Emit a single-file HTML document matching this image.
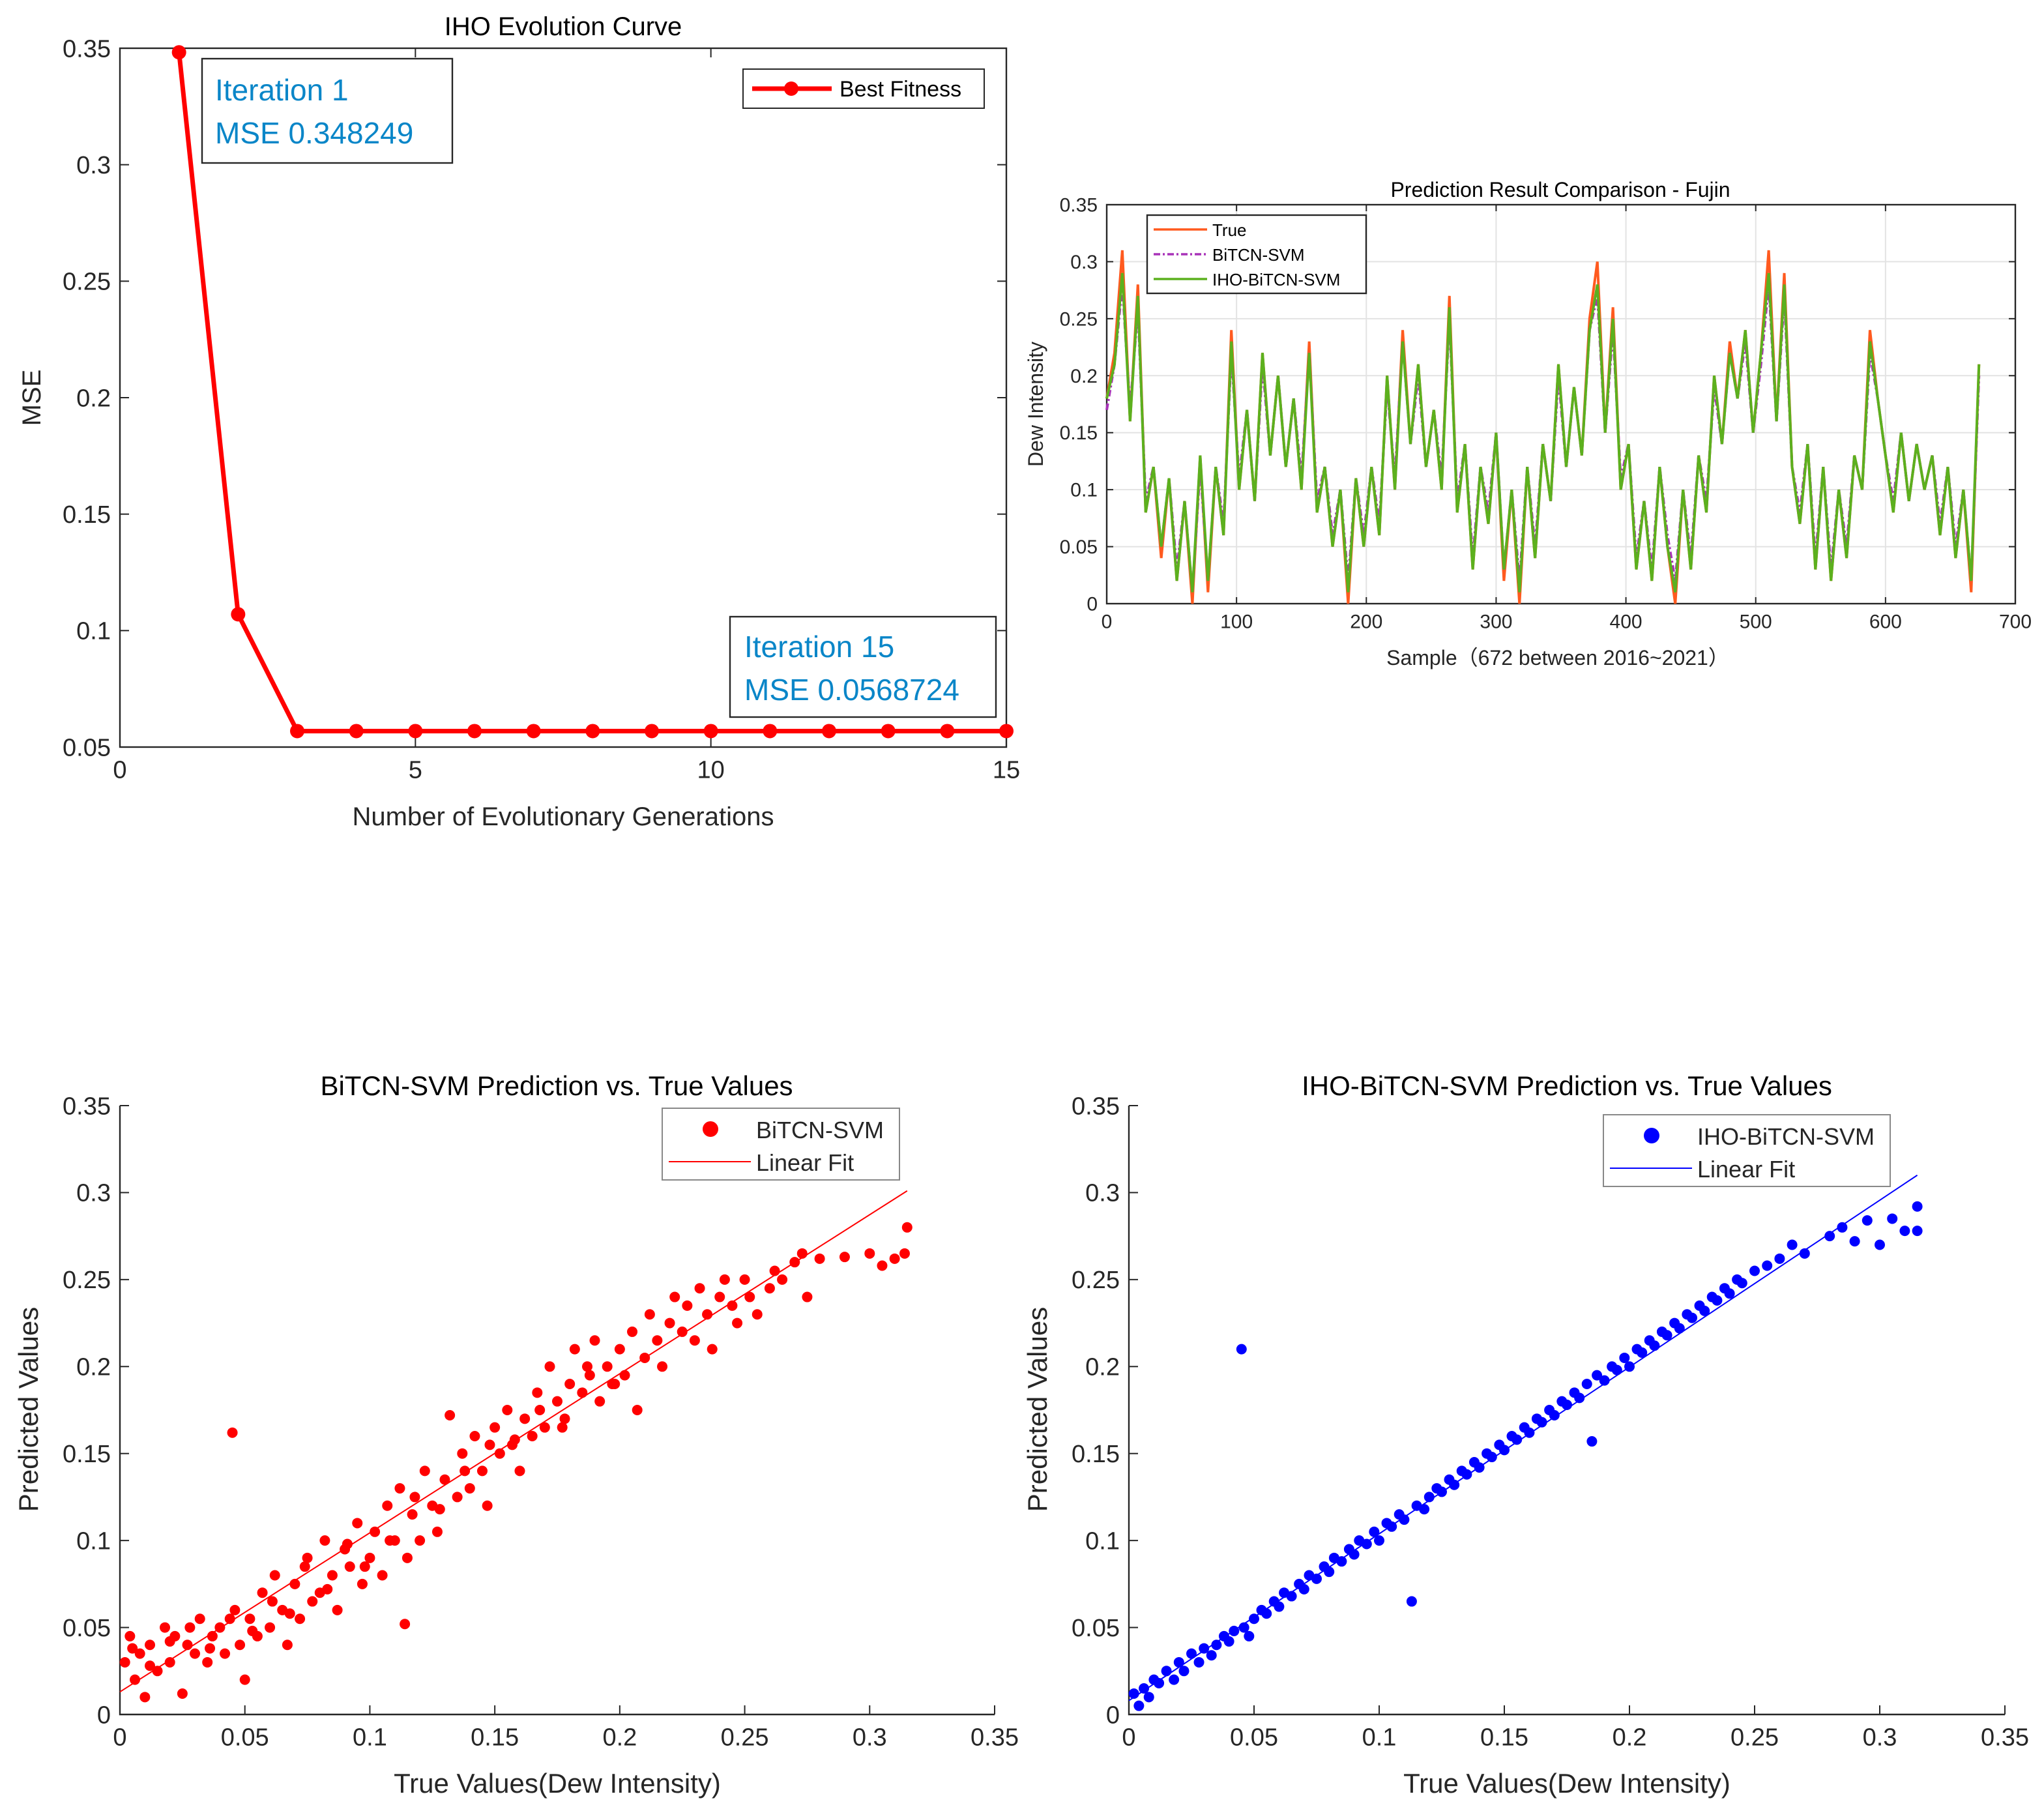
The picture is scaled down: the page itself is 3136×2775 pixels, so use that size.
<!DOCTYPE html>
<html><head><meta charset="utf-8"><style>
html,body{margin:0;padding:0;background:#fff;}
svg{display:block;font-family:"Liberation Sans",sans-serif;}
</style></head><body>
<svg id="s" width="3136" height="2775" viewBox="0 0 1568 1387.5" xmlns="http://www.w3.org/2000/svg"></svg>
<script>
// ---- Panel 1 data ----
const p1Gen=[1,2,3,4,5,6,7,8,9,10,11,12,13,14,15];
const p1Mse=[0.348249,0.107,0.0568724,0.0568724,0.0568724,0.0568724,0.0568724,0.0568724,0.0568724,0.0568724,0.0568724,0.0568724,0.0568724,0.0568724,0.0568724];
const p1XTicks=[0,5,10,15];
const p1YTicks=[0.05,0.1,0.15,0.2,0.25,0.3,0.35];
// ---- Panel 2 data ----
const p2Samples=[0,6,12,18,24,30,36,42,48,54,60,66,72,78,84,90,96,102,108,114,120,126,132,138,144,150,156,162,168,174,180,186,192,198,204,210,216,222,228,234,240,246,252,258,264,270,276,282,288,294,300,306,312,318,324,330,336,342,348,354,360,366,372,378,384,390,396,402,408,414,420,426,432,438,444,450,456,462,468,474,480,486,492,498,504,510,516,522,528,534,540,546,552,558,564,570,576,582,588,594,600,606,612,618,624,630,636,642,648,654,660,666,672];
const p2True=[0.18,0.22,0.31,0.16,0.28,0.08,0.12,0.04,0.11,0.02,0.09,0.0,0.13,0.01,0.12,0.06,0.24,0.1,0.17,0.09,0.22,0.13,0.2,0.12,0.18,0.1,0.23,0.08,0.12,0.05,0.1,0.0,0.11,0.05,0.12,0.06,0.2,0.1,0.24,0.14,0.21,0.12,0.17,0.1,0.27,0.08,0.14,0.03,0.12,0.07,0.15,0.02,0.1,0.0,0.12,0.04,0.14,0.09,0.21,0.12,0.19,0.13,0.25,0.3,0.15,0.26,0.1,0.14,0.03,0.09,0.02,0.12,0.05,0.0,0.1,0.03,0.13,0.08,0.2,0.14,0.23,0.18,0.24,0.15,0.22,0.31,0.16,0.29,0.12,0.07,0.14,0.03,0.12,0.02,0.1,0.04,0.13,0.1,0.24,0.18,0.13,0.08,0.15,0.09,0.14,0.1,0.13,0.06,0.12,0.04,0.1,0.01,0.21];
const p2Bitcn=[0.17,0.21,0.28,0.17,0.26,0.09,0.12,0.05,0.11,0.03,0.09,0.01,0.12,0.02,0.12,0.07,0.22,0.11,0.17,0.09,0.21,0.13,0.2,0.12,0.18,0.11,0.22,0.09,0.12,0.06,0.1,0.02,0.11,0.06,0.12,0.07,0.19,0.11,0.23,0.14,0.2,0.12,0.17,0.11,0.25,0.09,0.14,0.04,0.12,0.08,0.15,0.03,0.1,0.02,0.12,0.05,0.14,0.09,0.2,0.12,0.19,0.13,0.24,0.27,0.15,0.24,0.11,0.14,0.04,0.09,0.03,0.12,0.06,0.02,0.1,0.04,0.13,0.09,0.19,0.14,0.22,0.18,0.23,0.15,0.21,0.28,0.16,0.27,0.12,0.08,0.14,0.04,0.12,0.03,0.1,0.05,0.13,0.1,0.22,0.18,0.13,0.09,0.15,0.09,0.14,0.1,0.13,0.07,0.12,0.05,0.1,0.02,0.2];
const p2Iho=[0.18,0.21,0.29,0.16,0.27,0.08,0.12,0.05,0.11,0.02,0.09,0.01,0.13,0.02,0.12,0.06,0.23,0.1,0.17,0.09,0.22,0.13,0.2,0.12,0.18,0.1,0.22,0.08,0.12,0.05,0.1,0.01,0.11,0.05,0.12,0.06,0.2,0.1,0.23,0.14,0.21,0.12,0.17,0.1,0.26,0.08,0.14,0.03,0.12,0.07,0.15,0.03,0.1,0.01,0.12,0.04,0.14,0.09,0.21,0.12,0.19,0.13,0.24,0.28,0.15,0.25,0.1,0.14,0.03,0.09,0.02,0.12,0.05,0.01,0.1,0.03,0.13,0.08,0.2,0.14,0.22,0.18,0.24,0.15,0.22,0.29,0.16,0.28,0.12,0.07,0.14,0.03,0.12,0.02,0.1,0.04,0.13,0.1,0.23,0.18,0.13,0.08,0.15,0.09,0.14,0.1,0.13,0.06,0.12,0.04,0.1,0.02,0.21];
const p2XTicks=[0,100,200,300,400,500,600,700];
const p2YTicks=[0,0.05,0.1,0.15,0.2,0.25,0.3,0.35];
// ---- Panel 3/4 data ----
const scTicks=[0,0.05,0.1,0.15,0.2,0.25,0.3,0.35];
const redTrue=[0.002,0.004,0.006,0.008,0.01,0.012,0.015,0.018,0.02,0.022,0.025,0.027,0.03,0.032,0.035,0.037,0.04,0.042,0.045,0.046,0.048,0.05,0.052,0.055,0.057,0.06,0.062,0.065,0.067,0.07,0.072,0.075,0.077,0.08,0.082,0.085,0.087,0.09,0.092,0.095,0.097,0.1,0.102,0.105,0.107,0.11,0.112,0.114,0.115,0.117,0.12,0.122,0.125,0.127,0.13,0.132,0.135,0.137,0.14,0.142,0.145,0.147,0.15,0.152,0.155,0.157,0.16,0.162,0.165,0.167,0.17,0.172,0.175,0.177,0.18,0.182,0.185,0.187,0.19,0.192,0.195,0.197,0.2,0.202,0.205,0.207,0.21,0.212,0.215,0.217,0.22,0.222,0.225,0.227,0.23,0.232,0.235,0.237,0.24,0.242,0.245,0.247,0.25,0.252,0.255,0.26,0.262,0.265,0.27,0.273,0.275,0.28,0.29,0.3,0.305,0.31,0.315,0.314,0.005,0.012,0.02,0.028,0.036,0.044,0.053,0.061,0.068,0.074,0.083,0.091,0.098,0.108,0.118,0.128,0.138,0.148,0.158,0.168,0.178,0.188,0.198];
const redPred=[0.03,0.045,0.02,0.035,0.01,0.04,0.025,0.05,0.03,0.045,0.012,0.04,0.035,0.055,0.03,0.045,0.05,0.035,0.162,0.06,0.04,0.02,0.055,0.045,0.07,0.05,0.08,0.06,0.04,0.075,0.055,0.09,0.065,0.07,0.1,0.08,0.06,0.095,0.085,0.11,0.075,0.09,0.105,0.08,0.12,0.1,0.13,0.052,0.09,0.115,0.1,0.14,0.12,0.105,0.135,0.172,0.125,0.15,0.13,0.16,0.14,0.12,0.165,0.15,0.175,0.155,0.14,0.17,0.16,0.185,0.165,0.2,0.18,0.165,0.19,0.21,0.185,0.2,0.215,0.18,0.2,0.19,0.21,0.195,0.22,0.175,0.205,0.23,0.215,0.2,0.225,0.24,0.22,0.235,0.215,0.245,0.23,0.21,0.24,0.25,0.235,0.225,0.25,0.24,0.23,0.245,0.255,0.25,0.26,0.265,0.24,0.262,0.263,0.265,0.258,0.262,0.28,0.265,0.038,0.028,0.042,0.05,0.038,0.055,0.048,0.065,0.058,0.085,0.072,0.098,0.085,0.1,0.125,0.118,0.14,0.155,0.158,0.175,0.17,0.195,0.19];
const blueTrue=[0.002,0.004,0.006,0.008,0.01,0.012,0.015,0.018,0.02,0.022,0.025,0.028,0.03,0.033,0.035,0.038,0.04,0.042,0.045,0.046,0.048,0.05,0.053,0.055,0.058,0.06,0.062,0.065,0.068,0.07,0.072,0.075,0.078,0.08,0.082,0.085,0.088,0.09,0.092,0.095,0.098,0.1,0.103,0.105,0.108,0.11,0.113,0.115,0.118,0.12,0.123,0.125,0.128,0.13,0.133,0.135,0.138,0.14,0.143,0.145,0.148,0.15,0.153,0.155,0.158,0.16,0.163,0.165,0.168,0.17,0.173,0.175,0.178,0.18,0.183,0.185,0.187,0.19,0.193,0.195,0.198,0.2,0.203,0.205,0.208,0.21,0.213,0.215,0.218,0.22,0.223,0.225,0.228,0.23,0.233,0.235,0.238,0.24,0.243,0.245,0.25,0.255,0.26,0.265,0.27,0.28,0.285,0.29,0.295,0.3,0.305,0.31,0.315,0.315];
const bluePred=[0.012,0.005,0.015,0.01,0.02,0.018,0.025,0.02,0.03,0.025,0.035,0.03,0.038,0.034,0.04,0.045,0.042,0.048,0.21,0.05,0.045,0.055,0.06,0.058,0.065,0.062,0.07,0.068,0.075,0.072,0.08,0.078,0.085,0.082,0.09,0.088,0.095,0.092,0.1,0.098,0.105,0.1,0.11,0.108,0.115,0.112,0.065,0.12,0.118,0.125,0.13,0.128,0.135,0.132,0.14,0.138,0.145,0.142,0.15,0.148,0.155,0.152,0.16,0.158,0.165,0.162,0.17,0.168,0.175,0.172,0.18,0.178,0.185,0.182,0.19,0.157,0.195,0.192,0.2,0.198,0.205,0.2,0.21,0.208,0.215,0.212,0.22,0.218,0.225,0.222,0.23,0.228,0.235,0.232,0.24,0.238,0.245,0.242,0.25,0.248,0.255,0.258,0.262,0.27,0.265,0.275,0.28,0.272,0.284,0.27,0.285,0.278,0.292,0.278];
const redFit=[0.013,0.301];
const blueFit=[0.008,0.31];

const svg=document.getElementById('s');
const NS='http://www.w3.org/2000/svg';
function mk(tag,attrs,parent,txt){const e=document.createElementNS(NS,tag);for(const k in attrs)e.setAttribute(k,attrs[k]);if(txt!==undefined)e.textContent=txt;(parent||svg).appendChild(e);return e;}
function lin(d0,d1,r0,r1){return v=>r0+(v-d0)/(d1-d0)*(r1-r0);}
function fmt(v){return String(+v.toFixed(3));}

function axes(g,X,Y,x0,x1,y0,y1,xt,yt,fs,grid,tickLen,box){
  if(grid){
    xt.forEach(t=>{const l=mk('line',{x1:X(t),x2:X(t),y1:y0,y2:y1,stroke:'#e3e3e3','stroke-width':1},g);});
    yt.forEach(t=>{const l=mk('line',{x1:x0,x2:x1,y1:Y(t),y2:Y(t),stroke:'#e3e3e3','stroke-width':1},g);});
  }
  if(box){
    const b=mk('rect',{x:x0,y:y1,width:x1-x0,height:y0-y1,fill:'none',stroke:'#262626','stroke-width':1.2},g);
    
  } else {
    const a=mk('path',{d:`M${x0} ${y1}V${y0}H${x1}`,fill:'none',stroke:'#262626','stroke-width':1.2},g);
    
  }
  xt.forEach(t=>{
    mk('line',{x1:X(t),x2:X(t),y1:y0,y2:y0-tickLen,stroke:'#262626'},g);
    if(box)mk('line',{x1:X(t),x2:X(t),y1:y1,y2:y1+tickLen,stroke:'#262626'},g);
    const tx=mk('text',{x:X(t),y:y0+fs*1.25,'font-size':fs,'text-anchor':'middle',fill:'#262626'},g,fmt(t));
    
  });
  yt.forEach(t=>{
    mk('line',{x1:x0,x2:x0+tickLen,y1:Y(t),y2:Y(t),stroke:'#262626'},g);
    if(box)mk('line',{x1:x1,x2:x1-tickLen,y1:Y(t),y2:Y(t),stroke:'#262626'},g);
    const tx=mk('text',{x:x0-7,y:Y(t)+fs*0.35,'font-size':fs,'text-anchor':'end',fill:'#262626'},g,fmt(t));
    
  });
}

// ===== Panel 1 =====
(function(){
  const g=mk('g',{});
  const x0=92,x1=772,y0=573,y1=37;
  const X=lin(0,15,x0,x1),Y=lin(0.05,0.35,y0,y1);
  axes(g,X,Y,x0,x1,y0,y1,p1XTicks,p1YTicks,19,false,7,true);
  const t=mk('text',{x:432,y:27,'font-size':20,'text-anchor':'middle',fill:'#000'},g,'IHO Evolution Curve');
  const xl=mk('text',{x:432,y:633,'font-size':20,'text-anchor':'middle',fill:'#262626'},g,'Number of Evolutionary Generations');
  const yl=mk('text',{x:31,y:305,'font-size':20,'text-anchor':'middle',fill:'#262626',transform:'rotate(-90 31 305)'},g,'MSE');
  const pts=p1Gen.map((v,i)=>X(v)+','+Y(p1Mse[i])).join(' ');
  const pl=mk('polyline',{points:pts,fill:'none',stroke:'#ff0000','stroke-width':3.5},g);
  p1Gen.forEach((v,i)=>{const c=mk('circle',{cx:X(v),cy:Y(p1Mse[i]),r:5.5,fill:'#ff0000'},g);});
  const lg=mk('g',{},g);
  mk('rect',{x:570,y:53,width:185,height:30,fill:'#fff',stroke:'#262626','stroke-width':1},lg);
  mk('line',{x1:577,x2:638,y1:68,y2:68,stroke:'#f00','stroke-width':3.5},lg);
  mk('circle',{cx:607,cy:68,r:5.5,fill:'#f00'},lg);
  mk('text',{x:644,y:74,'font-size':17,fill:'#000'},lg,'Best Fitness');
  const a1=mk('g',{},g);
  mk('rect',{x:155,y:45,width:192,height:80,fill:'#fff',stroke:'#262626','stroke-width':1.2},a1);
  mk('text',{x:165,y:77,'font-size':23,fill:'#0a86c8'},a1,'Iteration 1');
  mk('text',{x:165,y:110,'font-size':23,fill:'#0a86c8'},a1,'MSE 0.348249');
  const a2=mk('g',{},g);
  mk('rect',{x:560,y:473,width:204,height:77,fill:'#fff',stroke:'#262626','stroke-width':1.2},a2);
  mk('text',{x:571,y:504,'font-size':23,fill:'#0a86c8'},a2,'Iteration 15');
  mk('text',{x:571,y:537,'font-size':23,fill:'#0a86c8'},a2,'MSE 0.0568724');
})();

// ===== Panel 2 =====
(function(){
  const g=mk('g',{});
  const x0=849,x1=1546,y0=463,y1=157;
  const X=lin(0,700,x0,x1),Y=lin(0,0.35,y0,y1);
  axes(g,X,Y,x0,x1,y0,y1,p2XTicks,p2YTicks,15,true,5,true);
  const t=mk('text',{x:1197,y:151,'font-size':16,'text-anchor':'middle',fill:'#000'},g,'Prediction Result Comparison - Fujin');
  const xl=mk('text',{x:1195,y:510,'font-size':16,'text-anchor':'middle',fill:'#262626'},g,'Sample（672 between 2016~2021）');
  const yl=mk('text',{x:800,y:310,'font-size':16,'text-anchor':'middle',fill:'#262626',transform:'rotate(-90 800 310)'},g,'Dew Intensity');
  const series=[[p2True,'#ff5a1f','none','true-line'],[p2Bitcn,'#a832b8','5,2,1.5,2','bitcn-svm-line'],[p2Iho,'#5cb01e','none','iho-bitcn-svm-line']];
  series.forEach(s=>{
    const pts=p2Samples.map((v,i)=>X(v)+','+Y(s[0][i])).join(' ');
    const p=mk('polyline',{points:pts,fill:'none',stroke:s[1],'stroke-width':2,'stroke-dasharray':s[2]},g);
    
  });
  const lg=mk('g',{},g);
  mk('rect',{x:880,y:165,width:168,height:60,fill:'#fff',stroke:'#262626','stroke-width':1.2},lg);
  [['True','#ff5a1f','none',176],['BiTCN-SVM','#a832b8','5,2,1.5,2',195],['IHO-BiTCN-SVM','#5cb01e','none',214]].forEach(r=>{
    mk('line',{x1:885,x2:926,y1:r[3],y2:r[3],stroke:r[1],'stroke-width':1.8,'stroke-dasharray':r[2]},lg);
    mk('text',{x:930,y:r[3]+5,'font-size':13,fill:'#000'},lg,r[0]);
  });
})();

// ===== Scatter panels =====
function scatter(name,x0,x1,title,tx,xs,ys,col,fit,label,lgx,lgy,lgw,lgh){
  const g=mk('g',{});
  const y0=1315,y1=848;
  const X=lin(0,0.35,x0,x1),Y=lin(0,0.35,y0,y1);
  axes(g,X,Y,x0,x1,y0,y1,scTicks,scTicks,19,false,7,false);
  const t=mk('text',{x:tx,y:840,'font-size':21,'text-anchor':'middle',fill:'#000'},g,title);
  const xl=mk('text',{x:(x0+x1)/2,y:1375,'font-size':21,'text-anchor':'middle',fill:'#262626'},g,'True Values(Dew Intensity)');
  const yx=x0-63;
  const yl=mk('text',{x:yx,y:1081,'font-size':21,'text-anchor':'middle',fill:'#262626',transform:'rotate(-90 '+yx+' 1081)'},g,'Predicted Values');
  xs.forEach((v,i)=>{const c=mk('circle',{cx:X(v),cy:Y(ys[i]),r:4,fill:col},g);});
  const f=mk('line',{x1:X(0),y1:Y(fit[0]),x2:X(0.315),y2:Y(fit[1]),stroke:col,'stroke-width':1},g);
  const lg=mk('g',{},g);
  mk('rect',{x:lgx,y:lgy,width:lgw,height:lgh,fill:'#fff',stroke:'#888','stroke-width':1},lg);
  mk('circle',{cx:lgx+37,cy:lgy+16,r:6,fill:col},lg);
  mk('text',{x:lgx+72,y:lgy+23,'font-size':18,fill:'#262626'},lg,label);
  mk('line',{x1:lgx+5,x2:lgx+68,y1:lgy+41,y2:lgy+41,stroke:col,'stroke-width':1},lg);
  mk('text',{x:lgx+72,y:lgy+48,'font-size':18,fill:'#262626'},lg,'Linear Fit');
}
scatter('bitcn-svm-scatter-chart',92,763,'BiTCN-SVM Prediction vs. True Values',427,redTrue,redPred,'#ff0000',redFit,'BiTCN-SVM',508,850,182,55);
scatter('iho-bitcn-svm-scatter-chart',866,1538,'IHO-BiTCN-SVM Prediction vs. True Values',1202,blueTrue,bluePred,'#0000ff',blueFit,'IHO-BiTCN-SVM',1230,855,220,55);
</script>
</body></html>
